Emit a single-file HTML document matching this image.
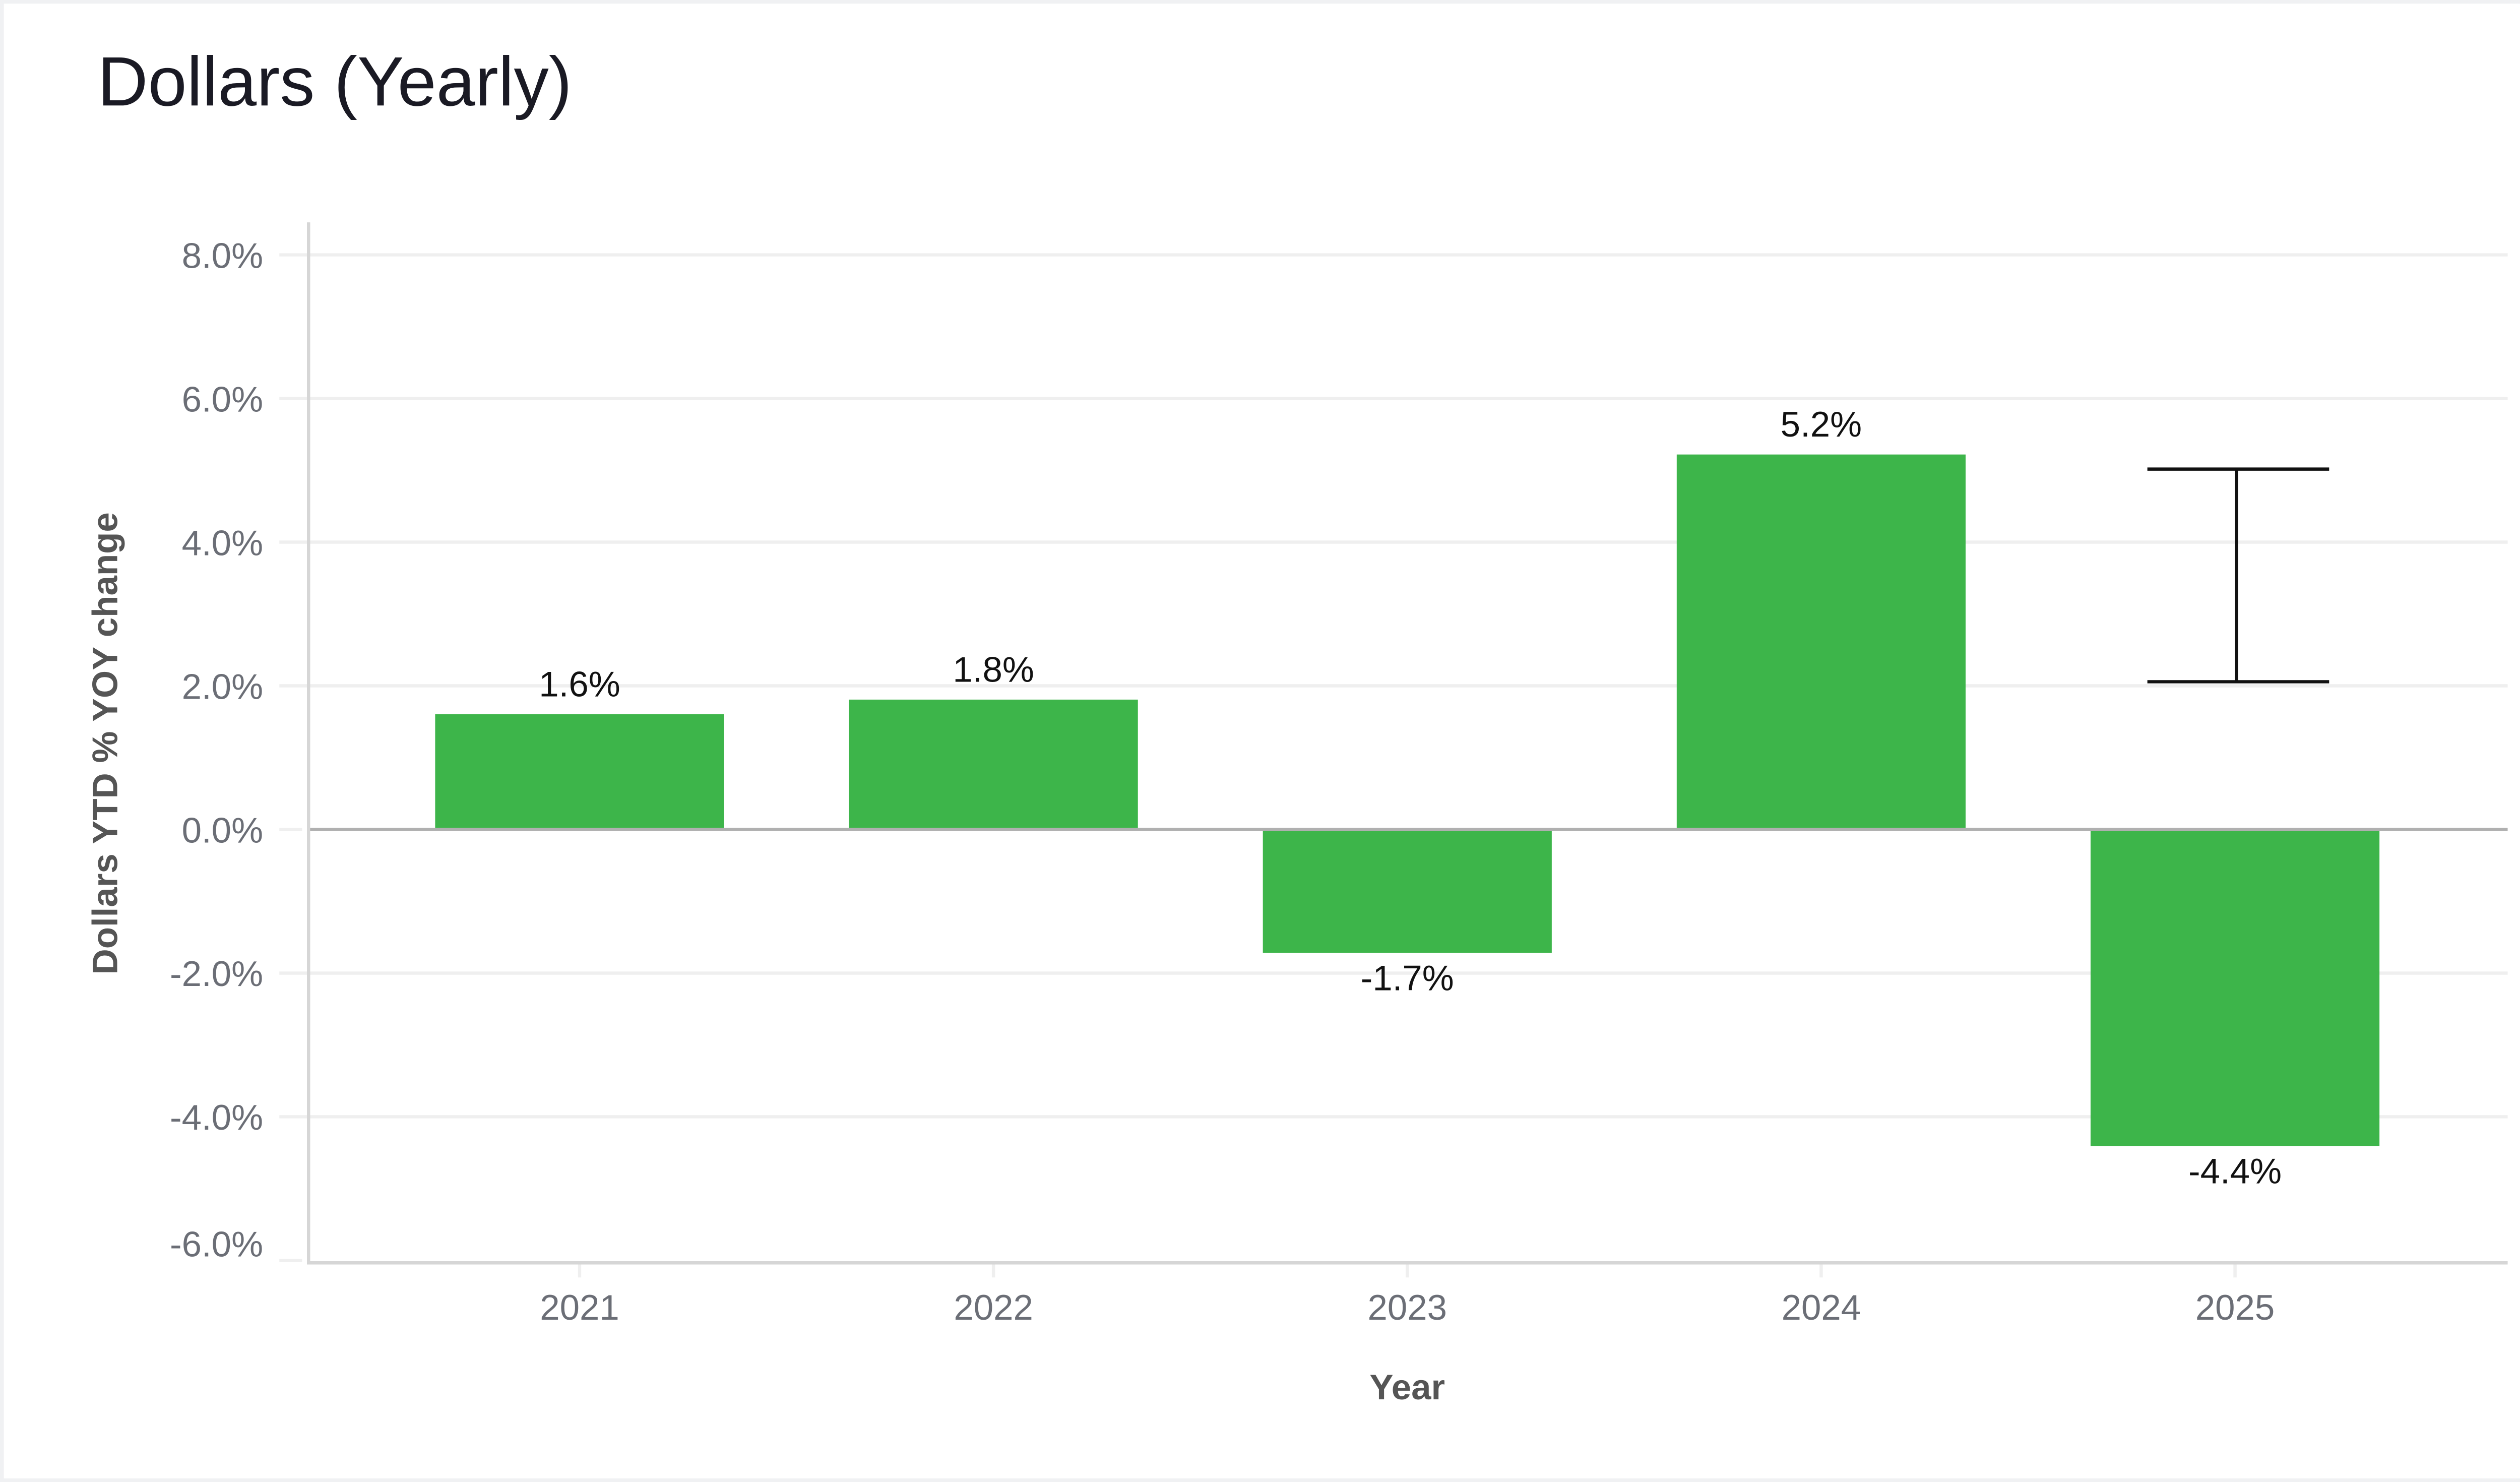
<!DOCTYPE html>
<html><head><meta charset="utf-8"><style>
html,body{margin:0;padding:0;background:#fff;}
svg{display:block;}
text{font-family:"Liberation Sans",sans-serif;}
</style></head><body>
<svg width="5050" height="2940" viewBox="0 0 1568 913" xmlns="http://www.w3.org/2000/svg">
<rect x="0" y="0" width="1568" height="913" fill="#fff"/>
<rect x="1" y="1" width="1566" height="911" fill="none" stroke="#f0f1f3" stroke-width="2.5"/>
<text x="60" y="65" font-size="43" fill="#1a1a24">Dollars (Yearly)</text>
<g stroke="#efefef" stroke-width="2">
<line x1="172" y1="157" x2="1545" y2="157"/>
<line x1="172" y1="245.5" x2="1545" y2="245.5"/>
<line x1="172" y1="334" x2="1545" y2="334"/>
<line x1="172" y1="422.5" x2="1545" y2="422.5"/>
<line x1="172" y1="599.5" x2="1545" y2="599.5"/>
<line x1="172" y1="688" x2="1545" y2="688"/>
<line x1="172" y1="776.5" x2="186" y2="776.5"/>
<line x1="172" y1="511" x2="186" y2="511"/>
<line x1="357" y1="779" x2="357" y2="787"/>
<line x1="612" y1="779" x2="612" y2="787"/>
<line x1="867" y1="779" x2="867" y2="787"/>
<line x1="1122" y1="779" x2="1122" y2="787"/>
<line x1="1377" y1="779" x2="1377" y2="787"/>
</g>
<g fill="#3db54a">
<rect x="268" y="440" width="178" height="71"/>
<rect x="523" y="431" width="178" height="80"/>
<rect x="778" y="511" width="178" height="76"/>
<rect x="1033" y="280" width="178" height="231"/>
<rect x="1288" y="511" width="178" height="195"/>
</g>
<line x1="190" y1="511" x2="1545" y2="511" stroke="#b0b0b0" stroke-width="2"/>
<line x1="190" y1="137" x2="190" y2="779" stroke="#d6d6d6" stroke-width="2"/>
<line x1="189" y1="778" x2="1545" y2="778" stroke="#d6d6d6" stroke-width="2"/>
<g stroke="#111" stroke-width="2" fill="none">
<line x1="1378" y1="289" x2="1378" y2="420"/>
<line x1="1323" y1="289" x2="1435" y2="289"/>
<line x1="1323" y1="420" x2="1435" y2="420"/>
</g>
<g font-size="22" fill="#6b6e76" text-anchor="end">
<text x="162" y="165">8.0%</text>
<text x="162" y="253.5">6.0%</text>
<text x="162" y="342">4.0%</text>
<text x="162" y="430.5">2.0%</text>
<text x="162" y="519">0.0%</text>
<text x="162" y="607.5">-2.0%</text>
<text x="162" y="696">-4.0%</text>
<text x="162" y="774">-6.0%</text>
</g>
<g font-size="22" fill="#6b6e76" text-anchor="middle">
<text x="357" y="813">2021</text>
<text x="612" y="813">2022</text>
<text x="867" y="813">2023</text>
<text x="1122" y="813">2024</text>
<text x="1377" y="813">2025</text>
</g>
<g font-size="22" fill="#111" text-anchor="middle">
<text x="357" y="429">1.6%</text>
<text x="612" y="420">1.8%</text>
<text x="867" y="610">-1.7%</text>
<text x="1122" y="269">5.2%</text>
<text x="1377" y="729">-4.4%</text>
</g>
<text x="867" y="862" font-size="22" font-weight="bold" fill="#555" text-anchor="middle">Year</text>
<text transform="translate(72,458) rotate(-90)" font-size="22" font-weight="bold" fill="#555" text-anchor="middle">Dollars YTD % YOY change</text>
</svg>
</body></html>
